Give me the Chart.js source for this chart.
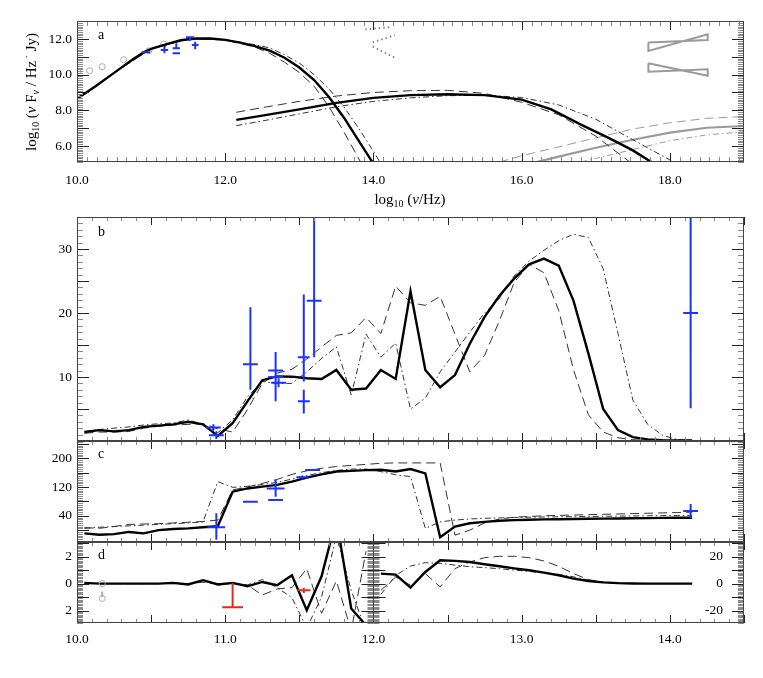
<!DOCTYPE html>
<html>
<head>
<meta charset="utf-8">
<script src="https://cdn.jsdelivr.net/npm/chart.js@4.4.0/dist/chart.umd.min.js"></script>
<style>
body { margin: 0; background: #fff; width: 763px; height: 678px; position: relative; overflow: hidden; }
canvas { position: absolute; left: 0; }
</style>
</head>
<body>
<canvas id="ca" width="763" height="215" style="top:0px"></canvas>
<canvas id="cb" width="763" height="264" style="top:197px"></canvas>
<canvas id="cc" width="763" height="141" style="top:421px"></canvas>
<canvas id="cd" width="763" height="156" style="top:522px"></canvas>
<script>
// ---- panel a: SED, log10(nu) vs log10(nu F_nu) ----
var syncNu = [10.0, 10.25, 10.5, 10.75, 10.9, 11.0, 11.2, 11.4, 11.6, 11.8, 12.0, 12.2, 12.4, 12.6, 12.8, 13.0, 13.2, 13.4, 13.6, 13.8, 14.0];
var syncFlux = [8.65, 9.35, 10.1, 10.85, 11.25, 11.45, 11.7, 11.93, 12.03, 12.03, 11.95, 11.8, 11.6, 11.35, 10.95, 10.4, 9.7, 8.75, 7.6, 6.3, 5.0];
var syncDashNu = [10.0, 10.5, 11.0, 11.5, 12.0, 12.4, 12.6, 12.8, 13.0, 13.2, 13.4, 13.6, 13.84];
var syncDashFlux = [8.65, 10.1, 11.45, 12.0, 11.95, 11.55, 11.2, 10.7, 10.12, 9.35, 8.2, 6.8, 5.0];
var syncDotNu = [10.0, 10.5, 11.0, 11.5, 12.0, 12.4, 12.6, 12.8, 13.0, 13.2, 13.4, 13.6, 13.8, 14.0, 14.1];
var syncDotFlux = [8.65, 10.1, 11.45, 12.0, 11.97, 11.68, 11.5, 11.12, 10.65, 10.0, 9.2, 8.2, 7.0, 5.7, 5.0];

var icNu = [12.15, 12.5, 13.0, 13.5, 14.0, 14.5, 15.0, 15.5, 16.0, 16.4, 16.8, 17.2, 17.5, 17.75];
var icFlux = [7.46, 7.7, 8.05, 8.42, 8.7, 8.85, 8.9, 8.85, 8.6, 8.05, 7.2, 6.4, 5.75, 5.1];
var icDashNu = [12.15, 12.5, 13.0, 13.5, 14.0, 14.5, 15.0, 15.5, 16.0, 16.5, 17.0, 17.46];
var icDashFlux = [7.89, 8.15, 8.5, 8.8, 9.0, 9.1, 9.12, 8.95, 8.45, 7.75, 6.55, 5.1];
var icDotNu = [12.15, 12.5, 13.0, 13.5, 14.0, 14.5, 15.0, 15.5, 16.0, 16.5, 17.0, 17.5, 18.05];
var icDotFlux = [7.14, 7.4, 7.8, 8.2, 8.5, 8.7, 8.82, 8.85, 8.72, 8.3, 7.5, 6.35, 5.1];

var sscNu = [16.2, 16.5, 17.0, 17.5, 18.0, 18.5, 19.0];
var sscFlux = [5.1, 5.4, 5.9, 6.35, 6.75, 7.02, 7.12];
var sscDashNu = [15.7, 16.0, 16.5, 17.0, 17.5, 18.0, 18.5, 19.0];
var sscDashFlux = [5.1, 5.45, 5.95, 6.45, 6.95, 7.3, 7.55, 7.65];
var sscDotNu = [16.8, 17.0, 17.5, 18.0, 18.5, 19.0];
var sscDotFlux = [5.1, 5.3, 5.8, 6.3, 6.62, 6.8];

var archNu = [10.01, 10.17, 10.34, 10.63, 10.97, 11.17];
var archFlux = [10.2, 10.22, 10.45, 10.84, 11.34, 11.72];

var obsNu = [10.93, 11.18, 11.34, 11.34, 11.525, 11.595];
var obsFlux = [11.25, 11.38, 11.48, 11.2, 12.1, 11.66];
var obsDnu = [0.058, 0.05, 0.05, 0.05, 0.055, 0.045];
var obsLo = [11.25, 11.2, 11.48, 11.2, 11.9, 11.42];
var obsHi = [11.25, 11.61, 11.76, 11.2, 12.1, 11.85];

var limitNuA = [13.89, 14.22], limitA = [12.54, 12.66];
var limitNuB = [13.99, 14.29], limitB = [11.81, 12.22];
var limitNuC = [13.99, 14.29], limitC = [11.57, 10.95];

var xrayNu = [17.71, 18.51, 18.51, 17.71, 17.71];
var xrayHi = [11.81, 11.94, 12.26, 11.33, 11.81];
var xrayLo = [10.64, 9.94, 10.3, 10.17, 10.64];

// ---- panels b-d: model grid in log10(nu) ----
var nuGrid = [10.05, 10.15, 10.25, 10.35, 10.45, 10.55, 10.65, 10.75, 10.85, 10.95,
  11.05, 11.15, 11.25, 11.35, 11.45, 11.55, 11.65, 11.75, 11.85, 11.95,
  12.05, 12.15, 12.25, 12.35, 12.45, 12.55, 12.65, 12.75, 12.85, 12.95,
  13.05, 13.15, 13.25, 13.35, 13.45, 13.55, 13.65, 13.75, 13.85, 13.95, 14.05, 14.15];

var lpModel = [1.4, 1.7, 1.5, 1.7, 2.2, 2.4, 2.6, 3.0, 2.6, 0.8,
  2.8, 6.2, 9.5, 10.1, 10.05, 9.8, 9.7, 11.1, 8.0, 8.2,
  11.1, 9.7, 23.4, 11.1, 8.4, 10.3, 15.2, 19.4, 22.7, 25.4,
  27.6, 28.5, 27.4, 21.9, 13.7, 5.0, 1.7, 0.6, 0.25, 0.12, 0.1, 0.1];
var lpDash = [1.2, 1.4, 1.4, 1.5, 2.0, 2.3, 2.5, 2.6, 2.7, 1.9,
  1.4, 4.9, 9.0, 10.6, 11.2, 12.8, 14.7, 16.5, 16.9, 19.3,
  16.8, 24.2, 21.6, 21.2, 22.6, 16.7, 10.8, 13.4, 18.8, 24.8,
  27.6, 26.3, 20.4, 11.1, 4.1, 1.4, 0.5, 0.2, 0.1, 0.1, 0.1, 0.1];
var lpDot = [1.4, 1.8, 2.0, 2.2, 2.5, 2.7, 2.8, 3.3, 2.6, 1.3,
  3.3, 6.9, 9.3, 9.0, 9.0, 10.8, 12.9, 14.7, 7.2, 16.7,
  13.1, 15.3, 5.0, 6.7, 10.8, 13.9, 17.0, 20.0, 22.3, 25.8,
  28.1, 29.8, 31.3, 32.3, 31.8, 26.9, 16.8, 6.4, 2.6, 0.9, 0.2, 0.1];

var lpObsNu = [10.92, 10.94, 11.17, 11.34, 11.34, 11.36, 11.53, 11.53, 11.6, 14.14];
var lpObs = [2.1, 0.9, 12.0, 11.0, 10.0, 9.1, 6.2, 13.1, 21.9, 20.0];
var lpObsDnu = [0.05, 0.05, 0.05, 0.05, 0.05, 0.05, 0.04, 0.04, 0.05, 0.05];
var lpObsLo = [1.6, 0.3, 8.0, 10.2, 6.2, 8.4, 4.3, 9.3, 13.1, 5.1];
var lpObsHi = [2.6, 1.5, 20.9, 11.8, 13.9, 9.8, 8.0, 22.9, 40, 40];

var evpaModel = [-9, -13, -11, -5, -9, 0, 3, 5, 8, 11,
  107, 116, 121, 126, 135, 146, 155, 163, 165, 167,
  168, 163, 170, 158, -20, 10, 19, 23, 26, 28,
  29, 30, 30.5, 31, 31.5, 32, 32.5, 33, 33.5, 34, 34.3, 34.5];
var evpaDash = [7, 5, 10, 16, 17, 18, 20, 22, 24, 28,
  112, 120, 130, 141, 155, 165, 172, 177, 180, 183,
  186, 187, 187, 187, 187, -14, 0, 20, 31, 36,
  38, 40, 41, 42, 43, 44, 45, 46, 47, 48, 49, 50];
var evpaDot = [5, 8, 10, 12, 14, 16, 18, 20, 23, 135,
  119, 122, 127, 133, 142, 152, 160, 166, 170, 170,
  163, 154, 149, 5, 23, 28, 31, 33, 34, 35,
  36, 36.5, 37, 37.5, 38, 38.5, 39, 39.5, 40, 40.5, 41, 41];

var evpaObsNu = [10.94, 11.17, 11.34, 11.34, 11.52, 11.59, 14.14];
var evpaObs = [8, 79, 116, 84, 147, 167, 53];
var evpaObsDnu = [0.06, 0.05, 0.06, 0.05, 0.04, 0.05, 0.05];
var evpaObsLo = [-27, 79, 93, 84, 141, 167, 33];
var evpaObsHi = [47, 79, 141, 84, 152, 167, 73];

// CP: below 12 on the left axis (%), above 12 on the right axis (%)
var cpModelLow = [0.05, 0, 0, 0, 0, 0, 0.05, -0.07, 0.25, -0.07,
  0.05, -0.2, 0.12, -0.12, 0.62, -1.98, 0.54, 4.8, -1.85, -3.1];
var cpDashLow = [0, 0, 0, 0, 0, 0, 0, 0, 0.1, 0,
  0, -0.1, -0.85, -0.4, -0.3, 1.1, -2.2, 0.2, -3.5, 2.4];
var cpDotLow = [0, 0, 0, 0, 0, 0, 0, -0.05, 0.2, -0.1,
  0, -0.1, 0.3, -0.3, -1.04, -3.3, -1.0, 3.5, -0.5, -3.5];
var cpModelHigh = [7.4, 6.6, -3, 8.6, 17.3, 16.8, 16, 14.3, 12.8, 11.3,
  9.9, 8.1, 6.2, 3.7, 1.9, 0.9, 0.3, 0.1, 0, 0, 0, 0];
var cpDashHigh = [-5, 4.9, -1.2, 7.4, -2.5, 11.1, 16, 19.2, 20.2, 20.2,
  19.2, 16.8, 12.8, 7.4, 3, 0.9, 0.3, 0.1, 0, 0, 0, 0];
var cpDotHigh = [-8, 6, 13, 15.5, 15, 13.7, 12.5, 11.8, 11, 10,
  9, 8, 6.8, 5, 2.5, 1, 0.3, 0.1, 0, 0, 0, 0];

var cpObsNu = [11.05, 11.53];
var cpObs = [-1.75, -0.5];
var cpObsDnu = [0.07, 0.045];
var cpObsLo = [-1.75, -0.7];
var cpObsHi = [0.05, -0.3];
var cpArchNu = [10.17, 10.17];
var cpArch = [0, -1.1];

var FONT = "'Liberation Serif', 'DejaVu Serif', 'Times New Roman', serif";
var DARK = '#333', GRAY = '#9a9a9a', BLUE = '#1b33ff', RED = '#e62a1e';
var MAJOR = '#222', MINOR = '#8a8a8a';
var DASH = [9, 5], DOT = [6, 3, 1.5, 3];
Chart.defaults.font.family = FONT;

function pts(xs, ys) {
  return xs.map(function (x, i) { return {x: x, y: ys[i]}; });
}
function curve(data, color, width, dash, axis) {
  return {data: data, borderColor: color, borderWidth: width, borderDash: dash || [],
    pointRadius: 0, fill: false, clip: 0, yAxisID: axis || 'y'};
}
function bars(xs, ys, dx, lo, hi, color, axis) {
  var d = [];
  xs.forEach(function (x, i) {
    if (dx[i] > 0) d.push({x: x - dx[i], y: ys[i]}, {x: x + dx[i], y: ys[i]}, {x: x, y: null});
    if (hi[i] > lo[i]) d.push({x: x, y: lo[i]}, {x: x, y: hi[i]}, {x: x, y: null});
  });
  return {data: d, borderColor: color, borderWidth: 2, pointRadius: 0, fill: false,
    spanGaps: false, clip: 0, yAxisID: axis || 'y'};
}
function circles(xs, ys, axis) {
  return {data: pts(xs, ys), showLine: false, pointRadius: 3, pointBorderWidth: 1,
    pointBorderColor: '#aaa', pointBackgroundColor: 'rgba(0,0,0,0)', clip: 0, yAxisID: axis || 'y'};
}

function xAxis(min, max, labels, height, pad) {
  return {type: 'linear', min: min, max: max, position: 'bottom', display: labels.length > 0,
    grid: {display: false, drawTicks: false}, border: {display: false},
    ticks: {font: {family: FONT, size: 13.5}, color: '#000', padding: pad || 0, maxRotation: 0,
      autoSkip: false, callback: function (v) { return v.toFixed(1); }},
    afterBuildTicks: function (s) { s.ticks = labels.map(function (v) { return {value: v}; }); },
    afterFit: function (s) { s.height = height; }};
}
function yAxis(min, max, labels, fmt) {
  return {type: 'linear', min: min, max: max, position: 'left',
    grid: {display: false, drawTicks: false}, border: {display: false},
    ticks: {font: {family: FONT, size: 13.5}, color: '#000', padding: 5, autoSkip: false, callback: fmt},
    afterBuildTicks: function (s) { s.ticks = labels.map(function (v) { return {value: v}; }); },
    afterFit: function (s) { s.width = 77; }};
}

// IDL style inward ticks
function steps(min, max, step) {
  var out = [];
  var n0 = Math.ceil(min / step - 1e-6), n1 = Math.floor(max / step + 1e-6);
  for (var n = n0; n <= n1; n++) out.push(n * step);
  return out;
}
function xTicks(ctx, sc, a, step, len, color) {
  ctx.strokeStyle = color; ctx.lineWidth = 1; ctx.beginPath();
  steps(sc.min, sc.max, step).forEach(function (v) {
    var p = Math.round(sc.getPixelForValue(v)) + 0.5;
    ctx.moveTo(p, a.bottom); ctx.lineTo(p, a.bottom - len);
    ctx.moveTo(p, a.top); ctx.lineTo(p, a.top + len);
  });
  ctx.stroke();
}
function yTicks(ctx, sc, xpos, dir, step, len, color) {
  ctx.strokeStyle = color; ctx.lineWidth = 1; ctx.beginPath();
  steps(sc.min, sc.max, step).forEach(function (v) {
    var p = Math.round(sc.getPixelForValue(v)) + 0.5;
    ctx.moveTo(xpos, p); ctx.lineTo(xpos + dir * len, p);
  });
  ctx.stroke();
}
function frameBox(ctx, a) {
  ctx.strokeStyle = '#444'; ctx.lineWidth = 1;
  ctx.strokeRect(a.left + 0.5, a.top + 0.5, a.right - a.left - 1, a.bottom - a.top - 1);
}
function panelLabel(ctx, a, t, dy) {
  ctx.font = '14px ' + FONT; ctx.fillStyle = '#000';
  ctx.textAlign = 'left'; ctx.textBaseline = 'middle';
  ctx.fillText(t, a.left + 21, a.top + dy);
}
// text runs: [text, 1 = subscript / 2 = raised, italic]
function rich(ctx, parts, x, y, rot, size) {
  ctx.save();
  ctx.translate(x, y);
  if (rot) ctx.rotate(-Math.PI / 2);
  function font(p) {
    return (p[2] ? 'italic ' : '') + (p[1] ? size * 0.66 : size) + 'px ' + FONT;
  }
  var w = 0;
  parts.forEach(function (p) { ctx.font = font(p); w += ctx.measureText(p[0]).width; });
  var cx = -w / 2;
  ctx.textAlign = 'left'; ctx.textBaseline = 'middle'; ctx.fillStyle = '#000';
  parts.forEach(function (p) {
    ctx.font = font(p);
    var dy = p[1] === 1 ? size * 0.3 : (p[1] === 2 ? -size * 0.28 : 0);
    ctx.fillText(p[0], cx, dy);
    cx += ctx.measureText(p[0]).width;
  });
  ctx.restore();
}
function plainTitle(ctx, t, x, y) {
  rich(ctx, [[t]], x, y, true, 15);
}
function xDecor(ctx, chart) {
  var a = chart.chartArea, x = chart.scales.x;
  xTicks(ctx, x, a, 0.1, 4, MINOR);
  xTicks(ctx, x, a, 0.5, 8, MAJOR);
}
var nuTitle = [['log'], ['10', 1], [' ('], ['ν', 0, true], ['/Hz)']];

function make(id, datasets, scales, padding, decor) {
  return new Chart(document.getElementById(id), {
    type: 'line',
    data: {datasets: datasets},
    options: {
      responsive: false, animation: false, devicePixelRatio: 1, events: [],
      layout: {padding: padding},
      plugins: {legend: {display: false}, tooltip: {enabled: false}},
      scales: scales
    },
    plugins: [{id: 'decor', afterDraw: decor}]
  });
}

// ---- panel a ----
make('ca', [
  bars(obsNu, obsFlux, obsDnu, obsLo, obsHi, BLUE),
  curve(pts(syncNu, syncFlux), '#000', 2.4),
  curve(pts(icNu, icFlux), '#000', 2.4),
  curve(pts(syncDashNu, syncDashFlux), DARK, 1, DASH),
  curve(pts(syncDotNu, syncDotFlux), DARK, 1, DOT),
  curve(pts(icDashNu, icDashFlux), DARK, 1, DASH),
  curve(pts(icDotNu, icDotFlux), DARK, 1, DOT),
  curve(pts(sscNu, sscFlux), GRAY, 2.2),
  curve(pts(sscDashNu, sscDashFlux), GRAY, 1, DASH),
  curve(pts(sscDotNu, sscDotFlux), GRAY, 1, DOT),
  curve(pts(xrayNu, xrayHi), GRAY, 2),
  curve(pts(xrayNu, xrayLo), GRAY, 2),
  curve(pts(limitNuA, limitA), '#888', 2, [1.5, 3]),
  curve(pts(limitNuB, limitB), '#888', 2, [1.5, 3]),
  curve(pts(limitNuC, limitC), '#888', 2, [1.5, 3]),
  circles(archNu, archFlux)
], {
  x: xAxis(10, 19, [10, 12, 14, 16, 18], 53, 10),
  y: yAxis(5.1, 13.01, [6, 8, 10, 12], function (v) { return v.toFixed(1); })
}, {top: 21, right: 19, left: 0, bottom: 0}, function (chart) {
  var ctx = chart.ctx, a = chart.chartArea, x = chart.scales.x, y = chart.scales.y;
  ctx.save();
  xTicks(ctx, x, a, 2 / 15, 5, MINOR);
  xTicks(ctx, x, a, 2, 9, MAJOR);
  yTicks(ctx, y, a.left, 1, 0.1, 6, MINOR); yTicks(ctx, y, a.right, -1, 0.1, 6, MINOR);
  yTicks(ctx, y, a.left, 1, 1, 12, MAJOR); yTicks(ctx, y, a.right, -1, 1, 12, MAJOR);
  frameBox(ctx, a);
  panelLabel(ctx, a, 'a', 14);
  rich(ctx, [['log'], ['10', 1], [' ('], ['ν', 0, true], [' F'], ['ν', 1, true], [' / Hz'], [' ·', 2], [' Jy)']], 32, 92, true, 15);
  rich(ctx, nuTitle, 410, 200, false, 15);
  ctx.restore();
});

// ---- panel b: linear polarisation ----
make('cb', [
  bars(lpObsNu, lpObs, lpObsDnu, lpObsLo, lpObsHi, BLUE),
  curve(pts(nuGrid, lpModel), '#000', 2.4),
  curve(pts(nuGrid, lpDash), DARK, 1, DASH),
  curve(pts(nuGrid, lpDot), DARK, 1, DOT)
], {
  x: xAxis(10, 14.5, [], 0),
  y: yAxis(0, 35, [10, 20, 30], function (v) { return String(v); })
}, {top: 20, right: 19, left: 0, bottom: 20}, function (chart) {
  var ctx = chart.ctx, a = chart.chartArea, y = chart.scales.y;
  ctx.save();
  xDecor(ctx, chart);
  yTicks(ctx, y, a.left, 1, 1, 6, MINOR); yTicks(ctx, y, a.right, -1, 1, 6, MINOR);
  yTicks(ctx, y, a.left, 1, 5, 12, MAJOR); yTicks(ctx, y, a.right, -1, 5, 12, MAJOR);
  frameBox(ctx, a);
  panelLabel(ctx, a, 'b', 15);
  plainTitle(ctx, 'LP (%)', 41, 329);
  ctx.restore();
});

// ---- panel c: EVPA ----
make('cc', [
  bars(evpaObsNu, evpaObs, evpaObsDnu, evpaObsLo, evpaObsHi, BLUE),
  curve(pts(nuGrid, evpaModel), '#000', 2.4),
  curve(pts(nuGrid, evpaDash), DARK, 1, DASH),
  curve(pts(nuGrid, evpaDot), DARK, 1, DOT)
], {
  x: xAxis(10, 14.5, [], 0),
  y: yAxis(-33, 248, [40, 120, 200], function (v) { return String(v); })
}, {top: 20, right: 19, left: 0, bottom: 20}, function (chart) {
  var ctx = chart.ctx, a = chart.chartArea, y = chart.scales.y;
  ctx.save();
  xDecor(ctx, chart);
  yTicks(ctx, y, a.left, 1, 5, 6, MINOR); yTicks(ctx, y, a.right, -1, 5, 6, MINOR);
  yTicks(ctx, y, a.left, 1, 40, 12, MAJOR); yTicks(ctx, y, a.right, -1, 40, 12, MAJOR);
  frameBox(ctx, a);
  panelLabel(ctx, a, 'c', 13);
  plainTitle(ctx, 'EVPA (°)', 37, 494);
  ctx.restore();
});

// ---- panel d: circular polarisation ----
var lowNu = nuGrid.slice(0, 20), highNu = nuGrid.slice(20);
var yRight = yAxis(-29.2, 30.8, [-20, 0, 20], function (v) { return String(v); });
yRight.position = 'right';
yRight.ticks.mirror = true;
yRight.ticks.padding = -21;
yRight.afterFit = function (s) { s.width = 0; };
make('cd', [
  bars(cpObsNu, cpObs, cpObsDnu, cpObsLo, cpObsHi, RED),
  bars([10.17], [-1.1], [0], [-1.0], [-0.6], '#aaa'),
  circles(cpArchNu, cpArch),
  curve(pts(lowNu, cpModelLow), '#000', 2.4),
  curve(pts(lowNu, cpDashLow), DARK, 1, DASH),
  curve(pts(lowNu, cpDotLow), DARK, 1, DOT),
  curve(pts(highNu, cpModelHigh), '#000', 2.4, null, 'y2'),
  curve(pts(highNu, cpDashHigh), DARK, 1, DASH, 'y2'),
  curve(pts(highNu, cpDotHigh), DARK, 1, DOT, 'y2')
], {
  x: xAxis(10, 14.5, [10, 11, 12, 13, 14], 55, 8),
  y: yAxis(-2.92, 3.08, [-2, 0, 2], function (v) { return String(Math.abs(v)); }),
  y2: yRight
}, {top: 20, right: 19, left: 0, bottom: 0}, function (chart) {
  var ctx = chart.ctx, a = chart.chartArea, x = chart.scales.x, y = chart.scales.y, y2 = chart.scales.y2;
  var mid = Math.round(x.getPixelForValue(12)) + 0.5;
  ctx.save();
  xDecor(ctx, chart);
  yTicks(ctx, y, a.left, 1, 0.1, 6, MINOR); yTicks(ctx, y, mid, -1, 0.1, 6, MINOR);
  yTicks(ctx, y, a.left, 1, 1, 12, MAJOR); yTicks(ctx, y, mid, -1, 1, 12, MAJOR);
  yTicks(ctx, y2, mid, 1, 1, 6, MINOR); yTicks(ctx, y2, a.right, -1, 1, 6, MINOR);
  yTicks(ctx, y2, mid, 1, 10, 12, MAJOR); yTicks(ctx, y2, a.right, -1, 10, 12, MAJOR);
  ctx.strokeStyle = '#444'; ctx.lineWidth = 1;
  ctx.beginPath(); ctx.moveTo(mid, a.top); ctx.lineTo(mid, a.bottom); ctx.stroke();
  frameBox(ctx, a);
  panelLabel(ctx, a, 'd', 13);
  plainTitle(ctx, 'CP (%)', 45, 582);
  rich(ctx, nuTitle, 410, 658, false, 15);
  ctx.restore();
});
</script>
</body>
</html>
